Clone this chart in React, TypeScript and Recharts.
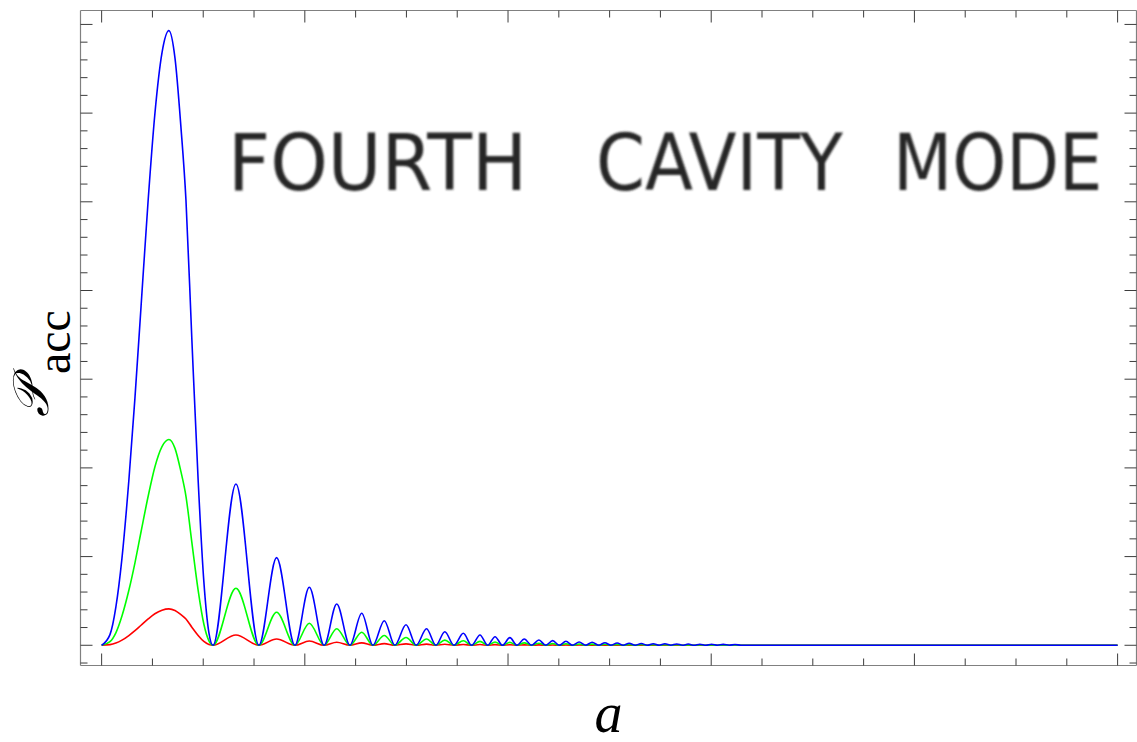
import React from "react";
import { LineChart, Line, XAxis, YAxis } from "recharts";

// main lobe, sampled along both flanks (a, in major-tick units)
const lobeOneA = [
  0, 0.041, 0.07, 0.1, 0.134, 0.164, 0.194, 0.229, 0.262, 0.297, 0.331, 0.361, 0.39, 0.415, 0.444, 0.475, 0.503,
  0.528, 0.548,
];
const lobeOneBlue = [
  0, 0.12, 0.43, 0.98, 1.86, 2.79, 3.82, 5.02, 5.99, 6.68, 6.93, 6.62, 5.85, 5.02, 3.45, 1.86, 0.72, 0.14, 0,
];
const lobeOneGreen = [
  0, 0.04, 0.14, 0.33, 0.62, 0.93, 1.28, 1.68, 2.01, 2.24, 2.32, 2.22, 1.96, 1.68, 1.16, 0.62, 0.24, 0.05, 0,
];
const lobeOneRed = [
  0, 0.007, 0.025, 0.058, 0.11, 0.165, 0.226, 0.297, 0.355, 0.395, 0.41, 0.392, 0.346, 0.297, 0.204, 0.11, 0.043,
  0.008, 0,
];

// following lobes: where each peaks and where it drops back to zero
const peakA = [
  0.661, 0.861, 1.022, 1.157, 1.28, 1.391, 1.498, 1.599, 1.689, 1.78, 1.862, 1.936, 2.009, 2.08, 2.152, 2.22,
  2.285, 2.35, 2.414, 2.477, 2.537, 2.596, 2.656, 2.715, 2.772, 2.83, 2.887, 2.944, 3.002, 3.059, 3.117,
];
const zeroA = [
  0.774, 0.951, 1.095, 1.222, 1.335, 1.443, 1.548, 1.645, 1.734, 1.821, 1.9, 1.973, 2.044, 2.116, 2.185, 2.252,
  2.318, 2.382, 2.446, 2.506, 2.567, 2.626, 2.685, 2.744, 2.802, 2.859, 2.916, 2.974, 3.031, 3.089, 3.146,
];
const peakBlue = [
  1.818, 0.988, 0.654, 0.466, 0.361, 0.277, 0.232, 0.187, 0.153, 0.135, 0.116, 0.097, 0.086, 0.071, 0.06, 0.052,
  0.045, 0.037, 0.034, 0.029, 0.026, 0.023, 0.02, 0.018, 0.017, 0.015, 0.014, 0.012, 0.011, 0.01, 0.009,
];
const peakGreen = [
  0.643, 0.372, 0.248, 0.187, 0.147, 0.11, 0.088, 0.071, 0.058, 0.051, 0.044, 0.037, 0.033, 0.027, 0.023, 0.02,
  0.017, 0.014, 0.013, 0.011, 0.01, 0.009, 0.008, 0.007, 0.006, 0.006, 0.005, 0.005, 0.004, 0.004, 0.003,
];
const peakRed = [
  0.116, 0.071, 0.048, 0.034, 0.027, 0.019, 0.016, 0.013, 0.011, 0.009, 0.008, 0.007, 0.006, 0.005, 0.004, 0.0035,
  0.003, 0.0025, 0.002, 0.002, 0.0018, 0.0015, 0.0013, 0.0012, 0.001, 0.001, 0.0009, 0.0008, 0.0007, 0.0007, 0.0006,
];
const tailA = 5;

const xTicks = [0, 0.25, 0.5, 0.75, 1, 1.25, 1.5, 1.75, 2, 2.25, 2.5, 2.75, 3, 3.25, 3.5, 3.75, 4, 4.25, 4.5, 4.75, 5];
const yTicks = [
  -0.2, 0, 0.2, 0.4, 0.6, 0.8, 1, 1.2, 1.4, 1.6, 1.8, 2, 2.2, 2.4, 2.6, 2.8, 3, 3.2, 3.4, 3.6, 3.8, 4, 4.2, 4.4,
  4.6, 4.8, 5, 5.2, 5.4, 5.6, 5.8, 6, 6.2, 6.4, 6.6, 6.8, 7,
];

const titleWords = ["FOURTH", "CAVITY", "MODE"];

const rows: { a: number; blue: number; green: number; red: number }[] = [];
lobeOneA.forEach((a, i) => rows.push({ a, blue: lobeOneBlue[i], green: lobeOneGreen[i], red: lobeOneRed[i] }));
peakA.forEach((a, i) => {
  rows.push({ a, blue: peakBlue[i], green: peakGreen[i], red: peakRed[i] });
  rows.push({ a: zeroA[i], blue: 0, green: 0, red: 0 });
});
rows.push({ a: tailA, blue: 0, green: 0, red: 0 });

const FRAME = "#808080";
const TICK = "#3c3c3c";
const SERIF = "'Times New Roman', 'Liberation Serif', 'DejaVu Serif', serif";
const isMajor = (v: number) => Math.abs(v - Math.round(v)) < 1e-6;

// frame ticks point inwards, so draw them ourselves from the axis edge
const frameTick = (side: "bottom" | "top" | "left" | "right") => (props: any) => {
  const { x, y, payload } = props;
  const len = isMajor(payload.value) ? 12 : 7;
  let x2 = x;
  let y2 = y;
  if (side === "bottom") y2 = y - len;
  if (side === "top") y2 = y + len;
  if (side === "left") x2 = x + len;
  if (side === "right") x2 = x - len;
  return <line x1={x} y1={y} x2={x2} y2={y2} stroke={TICK} strokeWidth={1} />;
};

const xLabel = (props: any) => {
  const vb = props.viewBox;
  return (
    <text
      x={vb.x + vb.width / 2}
      y={vb.y + 66}
      textAnchor="middle"
      style={{ fontFamily: SERIF }}
      fontStyle="italic"
      fontSize={56}
      fill="#000"
    >
      a
    </text>
  );
};

const yLabel = () => (
  <g fill="#000">
    <text x={48} y={417} transform="rotate(-90 48 417)" style={{ fontFamily: SERIF }} fontStyle="italic" fontSize={50}>
      𝒫
    </text>
    <text x={70} y={374} transform="rotate(-90 70 374)" style={{ fontFamily: SERIF }} fontSize={48}>
      acc
    </text>
  </g>
);

// hand-lettered title: left edge of ink, horizontal squeeze
const titleLayout: [number, number][] = [
  [228, 0.94],
  [596, 0.9],
  [893, 0.88],
];

export default function App() {
  return (
    <div
      style={{
        position: "fixed",
        left: 0,
        top: 0,
        width: 1137,
        height: 742,
        overflow: "hidden",
        background: "#fff",
      }}
    >
      <LineChart
        width={1147}
        height={742}
        data={rows}
        margin={{ top: 0.5, right: 0.5, bottom: 16.5, left: 20.5 }}
      >
        <XAxis
          dataKey="a"
          type="number"
          domain={[-0.104, 5.093]}
          allowDataOverflow
          ticks={xTicks}
          interval={0}
          height={60}
          tickSize={0}
          tickMargin={0}
          tickLine={false}
          axisLine={{ stroke: FRAME, strokeWidth: 1.2 }}
          tick={frameTick("bottom")}
          label={{ content: xLabel }}
        />
        <XAxis
          xAxisId="top"
          orientation="top"
          dataKey="a"
          type="number"
          domain={[-0.104, 5.093]}
          allowDataOverflow
          ticks={xTicks}
          interval={0}
          height={10}
          tickSize={0}
          tickMargin={0}
          tickLine={false}
          axisLine={{ stroke: FRAME, strokeWidth: 1.2 }}
          tick={frameTick("top")}
        />
        <YAxis
          type="number"
          domain={[-0.228, 7.157]}
          allowDataOverflow
          ticks={yTicks}
          interval={0}
          width={60}
          tickSize={0}
          tickMargin={0}
          tickLine={false}
          axisLine={{ stroke: FRAME, strokeWidth: 1.2 }}
          tick={frameTick("left")}
          label={{ content: yLabel }}
        />
        <YAxis
          yAxisId="right"
          orientation="right"
          type="number"
          domain={[-0.228, 7.157]}
          allowDataOverflow
          ticks={yTicks}
          interval={0}
          width={10}
          tickSize={0}
          tickMargin={0}
          tickLine={false}
          axisLine={{ stroke: FRAME, strokeWidth: 1.2 }}
          tick={frameTick("right")}
        />
        <Line type="monotone" dataKey="red" stroke="#ff0000" strokeWidth={1.6} dot={false} isAnimationActive={false} />
        <Line type="monotone" dataKey="green" stroke="#00ff00" strokeWidth={1.6} dot={false} isAnimationActive={false} />
        <Line type="monotone" dataKey="blue" stroke="#0000ff" strokeWidth={1.6} dot={false} isAnimationActive={false} />
      </LineChart>

      <svg
        width={1137}
        height={742}
        style={{ position: "absolute", left: 0, top: 0, pointerEvents: "none" }}
      >
        <defs>
          <filter id="charcoal" x="-10%" y="-40%" width="120%" height="180%">
            <feGaussianBlur stdDeviation="0.9" />
          </filter>
        </defs>
        <g filter="url(#charcoal)" fill="#262626" fontFamily="'DejaVu Sans', sans-serif" fontSize={78}>
          {titleWords.map((w, i) => (
            <text key={w} x={0} y={0} transform={`translate(${titleLayout[i][0]} 190) scale(${titleLayout[i][1]} 1)`}>
              {w}
            </text>
          ))}
        </g>
      </svg>
    </div>
  );
}
